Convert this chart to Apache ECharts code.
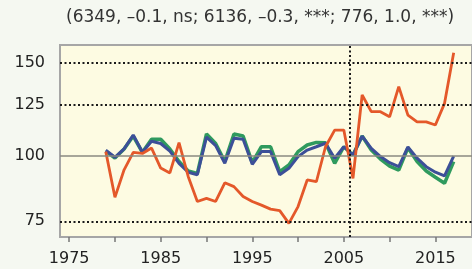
<!DOCTYPE html>
<html>
<head>
<meta charset="utf-8">
<style>
  html, body { margin: 0; padding: 0; background: #f5f8f1; }
  #chart { width: 472px; height: 269px; }
</style>
<script src="https://cdn.jsdelivr.net/npm/echarts@6/dist/echarts.min.js"></script>
</head>
<body>
<div id="chart"></div>
<script>
const years = [1979, 1980, 1981, 1982, 1983, 1984, 1985, 1986, 1987, 1988,
  1989, 1990, 1991, 1992, 1993, 1994, 1995, 1996, 1997, 1998,
  1999, 2000, 2001, 2002, 2003, 2004, 2005, 2006, 2007, 2008,
  2009, 2010, 2011, 2012, 2013, 2014, 2015, 2016, 2017]

const blueVals = [102.5, 99.3, 103, 109.5, 101.5, 106.5, 105.5, 102, 96.7, 93,
  92, 108.5, 104.5, 96.7, 108, 107.5, 96.3, 101.8, 101.8, 92,
  94.6, 99.6, 102.5, 104, 105.6, 98.9, 104, 100.3, 109, 103.3,
  99.6, 97, 95.3, 103.9, 98.9, 95.3, 93, 91.5, 99.8]

const greenVals = [102, 99, 103, 109, 101.5, 107.5, 107.5, 103, 97.5, 93.5,
  92.5, 110, 105.5, 97.5, 110, 109, 97, 104, 104, 93.2,
  96, 101.8, 104.8, 106, 105.8, 96.7, 104, 100.3, 109, 102.5,
  98.5, 95.5, 93.9, 103.5, 97.5, 93.5, 91, 88.6, 97.4]

const redVals = [101.8, 83.3, 94, 101.5, 101, 103.4, 94.7, 92.7, 105.9, 91.3,
  81.8, 82.9, 81.8, 88.8, 87.3, 83.6, 81.8, 80.5, 79.1, 78.6,
  74.3, 80, 89.9, 89.2, 104, 111.9, 111.9, 90.5, 130.5, 121.3,
  121.3, 118.6, 135.4, 119.5, 116, 116, 114.4, 125.8, 157]

const yTicks = [75, 100, 125, 150]
const dottedLevels = [75, 125, 150]
const xTicks = [1975, 1980, 1985, 1990, 1995, 2000, 2005, 2010, 2015]
const xLabels = [1975, 1985, 1995, 2005, 2015]
const breakYear = 2005.6
const subtitle = '(6349, \u20130.1, ns; 6136, \u20130.3, ***; 776, 1.0, ***)'

const pairs = vals => years.map((y, i) => [y, vals[i]])
const font = { fontFamily: 'DejaVu Sans', fontSize: 16, color: '#222' }

const chart = echarts.init(document.getElementById('chart'))

chart.setOption({
  backgroundColor: '#f5f8f1',
  animation: false,
  title: {
    text: subtitle,
    left: 61,
    top: 4,
    textStyle: { fontFamily: 'DejaVu Sans', fontSize: 17, fontWeight: 'normal', color: '#333' }
  },
  grid: {
    left: 60, right: -17, top: 45, bottom: 32,
    show: true,
    backgroundColor: '#fdfbe2',
    borderColor: '#a6a6a6',
    borderWidth: 2
  },
  xAxis: {
    type: 'value',
    min: 1974,
    max: 2019,
    splitLine: { show: false },
    axisLine: { show: false },
    axisTick: { show: true, customValues: xTicks, length: 5, lineStyle: { color: '#777', width: 1.5 } },
    axisLabel: {
      customValues: xLabels,
      formatter: v => String(v),
      margin: 14,
      ...font
    }
  },
  yAxis: {
    type: 'log',
    logBase: 10,
    min: 70,
    max: 162.5,
    splitLine: { show: false },
    axisLine: { show: false },
    axisTick: { show: false },
    axisLabel: {
      customValues: yTicks,
      formatter: v => String(Math.round(v)),
      margin: 15,
      ...font
    }
  },
  series: [
    {
      type: 'line',
      data: [],
      silent: true,
      markLine: {
        silent: true,
        symbol: 'none',
        label: { show: false },
        data: [
          ...dottedLevels.map(v => ({ yAxis: v, lineStyle: { type: [2, 2.5], width: 2, color: '#1a1a1a' } })),
          { yAxis: 100, lineStyle: { type: 'solid', width: 1.5, color: '#8a8a80' } },
          { xAxis: breakYear, lineStyle: { type: [2, 2.5], width: 2, color: '#1a1a1a' } }
        ]
      }
    },
    {
      name: 'green', type: 'line', data: pairs(greenVals), symbol: 'none',
      lineStyle: { color: '#2f9a5e', width: 3.5 }
    },
    {
      name: 'blue', type: 'line', data: pairs(blueVals), symbol: 'none',
      lineStyle: { color: '#3c4f98', width: 3 }
    },
    {
      name: 'red', type: 'line', data: pairs(redVals), symbol: 'none',
      lineStyle: { color: '#e4582a', width: 2.8 }
    }
  ]
})
</script>
</body>
</html>
